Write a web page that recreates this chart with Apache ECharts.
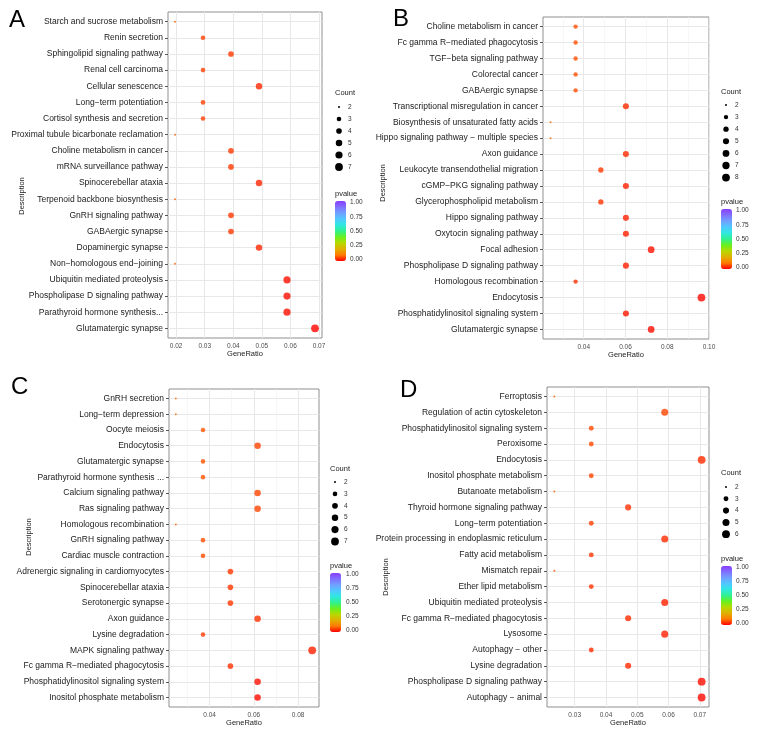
<!DOCTYPE html>
<html>
<head>
<meta charset="utf-8">
<script src="https://cdn.jsdelivr.net/npm/echarts@6/dist/echarts.min.js"></script>
<style>
  html, body { margin: 0; padding: 0; background: #fff; }
  #chart { width: 757px; height: 734px; }
</style>
</head>
<body>
<div id="chart"></div>
<script>
// ---- panel A ----
const termsA = ['Starch and sucrose metabolism', 'Renin secretion', 'Sphingolipid signaling pathway', 'Renal cell carcinoma',
  'Cellular senescence', 'Long−term potentiation', 'Cortisol synthesis and secretion', 'Proximal tubule bicarbonate reclamation',
  'Choline metabolism in cancer', 'mRNA surveillance pathway', 'Spinocerebellar ataxia', 'Terpenoid backbone biosynthesis',
  'GnRH signaling pathway', 'GABAergic synapse', 'Dopaminergic synapse', 'Non−homologous end−joining',
  'Ubiquitin mediated proteolysis', 'Phospholipase D signaling pathway', 'Parathyroid hormone synthesis...', 'Glutamatergic synapse'];
const ratioA = [0.0196, 0.0294, 0.0392, 0.0294, 0.0490, 0.0294, 0.0294, 0.0196, 0.0392, 0.0392,
  0.0490, 0.0196, 0.0392, 0.0392, 0.0490, 0.0196, 0.0588, 0.0588, 0.0588, 0.0686];
const countA = [2, 3, 4, 3, 5, 3, 3, 2, 4, 4, 5, 2, 4, 4, 5, 2, 6, 6, 6, 7];
const pvalA = [0.08, 0.05, 0.045, 0.05, 0.03, 0.05, 0.05, 0.08, 0.045, 0.045,
  0.03, 0.08, 0.045, 0.045, 0.03, 0.08, 0.012, 0.012, 0.012, 0.003];
const countKeyA = [2, 3, 4, 5, 6, 7];
const breaksA = [0.02, 0.03, 0.04, 0.05, 0.06, 0.07];
const minorA = [0.025, 0.035, 0.045, 0.055, 0.065];

// ---- panel B ----
const termsB = ['Choline metabolism in cancer', 'Fc gamma R−mediated phagocytosis', 'TGF−beta signaling pathway', 'Colorectal cancer',
  'GABAergic synapse', 'Transcriptional misregulation in cancer', 'Biosynthesis of unsaturated fatty acids',
  'Hippo signaling pathway − multiple species', 'Axon guidance', 'Leukocyte transendothelial migration',
  'cGMP−PKG signaling pathway', 'Glycerophospholipid metabolism', 'Hippo signaling pathway', 'Oxytocin signaling pathway',
  'Focal adhesion', 'Phospholipase D signaling pathway', 'Homologous recombination', 'Endocytosis',
  'Phosphatidylinositol signaling system', 'Glutamatergic synapse'];
const ratioB = [0.0361, 0.0361, 0.0361, 0.0361, 0.0361, 0.0602, 0.0241, 0.0241, 0.0602, 0.0482,
  0.0602, 0.0482, 0.0602, 0.0602, 0.0723, 0.0602, 0.0361, 0.0964, 0.0602, 0.0723];
const countB = [3, 3, 3, 3, 3, 5, 2, 2, 5, 4, 5, 4, 5, 5, 6, 5, 3, 8, 5, 6];
const pvalB = [0.065, 0.065, 0.065, 0.065, 0.065, 0.035, 0.08, 0.08, 0.035, 0.045,
  0.025, 0.04, 0.025, 0.025, 0.015, 0.025, 0.04, 0.006, 0.02, 0.01];
const countKeyB = [2, 3, 4, 5, 6, 7, 8];
const breaksB = [0.04, 0.06, 0.08, 0.10];
const minorB = [0.03, 0.05, 0.07, 0.09];

// ---- panel C ----
const termsC = ['GnRH secretion', 'Long−term depression', 'Oocyte meiosis', 'Endocytosis', 'Glutamatergic synapse',
  'Parathyroid hormone synthesis ...', 'Calcium signaling pathway', 'Ras signaling pathway', 'Homologous recombination',
  'GnRH signaling pathway', 'Cardiac muscle contraction', 'Adrenergic signaling in cardiomyocytes', 'Spinocerebellar ataxia',
  'Serotonergic synapse', 'Axon guidance', 'Lysine degradation', 'MAPK signaling pathway',
  'Fc gamma R−mediated phagocytosis', 'Phosphatidylinositol signaling system', 'Inositol phosphate metabolism'];
const ratioC = [0.0247, 0.0247, 0.0370, 0.0617, 0.0370, 0.0370, 0.0617, 0.0617, 0.0247, 0.0370,
  0.0370, 0.0494, 0.0494, 0.0494, 0.0617, 0.0370, 0.0864, 0.0494, 0.0617, 0.0617];
const countC = [2, 2, 3, 5, 3, 3, 5, 5, 2, 3, 3, 4, 4, 4, 5, 3, 7, 4, 5, 5];
const pvalC = [0.09, 0.09, 0.07, 0.055, 0.07, 0.07, 0.055, 0.055, 0.085, 0.065,
  0.06, 0.045, 0.045, 0.045, 0.04, 0.05, 0.025, 0.04, 0.012, 0.008];
const countKeyC = [2, 3, 4, 5, 6, 7];
const breaksC = [0.04, 0.06, 0.08];
const minorC = [0.03, 0.05, 0.07];

// ---- panel D ----
const termsD = ['Ferroptosis', 'Regulation of actin cytoskeleton', 'Phosphatidylinositol signaling system', 'Peroxisome',
  'Endocytosis', 'Inositol phosphate metabolism', 'Butanoate metabolism', 'Thyroid hormone signaling pathway',
  'Long−term potentiation', 'Protein processing in endoplasmic reticulum', 'Fatty acid metabolism', 'Mismatch repair',
  'Ether lipid metabolism', 'Ubiquitin mediated proteolysis', 'Fc gamma R−mediated phagocytosis', 'Lysosome',
  'Autophagy − other', 'Lysine degradation', 'Phospholipase D signaling pathway', 'Autophagy − animal'];
const ratioD = [0.0235, 0.0588, 0.0353, 0.0353, 0.0706, 0.0353, 0.0235, 0.0471, 0.0353, 0.0588,
  0.0353, 0.0235, 0.0353, 0.0588, 0.0471, 0.0588, 0.0353, 0.0471, 0.0706, 0.0706];
const countD = [2, 5, 3, 3, 6, 3, 2, 4, 3, 5, 3, 2, 3, 5, 4, 5, 3, 4, 6, 6];
const pvalD = [0.08, 0.055, 0.06, 0.06, 0.035, 0.055, 0.08, 0.04, 0.05, 0.035,
  0.045, 0.07, 0.04, 0.025, 0.035, 0.025, 0.035, 0.03, 0.01, 0.006];
const countKeyD = [2, 3, 4, 5, 6];
const breaksD = [0.03, 0.04, 0.05, 0.06, 0.07];
const minorD = [0.025, 0.035, 0.045, 0.055, 0.065];

const pvalueBreaks = [0, 0.25, 0.5, 0.75, 1];

const FONT = '"Liberation Sans", Arial, Helvetica, sans-serif';
// red at 0 -> purple at 1, 0.1 steps
const ramp = ['#ff0000', '#ff7a00', '#e0b000', '#b8d800', '#66f020', '#30f090',
  '#30e8e0', '#50c8ff', '#70a0ff', '#8070ff', '#8a3cff'];

const panels = [
  { letter: 'A', letterX: 9, letterY: 20, terms: termsA, ratio: ratioA, count: countA, pval: pvalA,
    key: countKeyA, breaks: breaksA, minor: minorA,
    grid: { left: 168, top: 12, width: 154, height: 326 }, desc: [22, 196], xNameGap: 12,
    cnt: { tx: 335, ty: 93, dx: 339, lx: 348, y0: 107, step: 12 },
    pv: { tx: 335, ty: 194, bx: 335, by: 201, bh: 60, lx: 350 } },
  { letter: 'B', letterX: 393, letterY: 19, terms: termsB, ratio: ratioB, count: countB, pval: pvalB,
    key: countKeyB, breaks: breaksB, minor: minorB,
    grid: { left: 543, top: 17, width: 166, height: 322 }, desc: [383, 183], xNameGap: 12,
    cnt: { tx: 721, ty: 92, dx: 726, lx: 735, y0: 105, step: 12.1 },
    pv: { tx: 721, ty: 202, bx: 721, by: 209, bh: 60, lx: 736 } },
  { letter: 'C', letterX: 11, letterY: 387, terms: termsC, ratio: ratioC, count: countC, pval: pvalC,
    key: countKeyC, breaks: breaksC, minor: minorC,
    grid: { left: 169, top: 389, width: 150, height: 318 }, desc: [29, 537], xNameGap: 12,
    cnt: { tx: 330, ty: 469, dx: 335, lx: 344, y0: 482, step: 11.9 },
    pv: { tx: 330, ty: 566, bx: 330, by: 573, bh: 59, lx: 346 } },
  { letter: 'D', letterX: 400, letterY: 390, terms: termsD, ratio: ratioD, count: countD, pval: pvalD,
    key: countKeyD, breaks: breaksD, minor: minorD,
    grid: { left: 547, top: 387, width: 162, height: 320 }, desc: [386, 577], xNameGap: 12,
    cnt: { tx: 721, ty: 473, dx: 726, lx: 735, y0: 487, step: 11.8 },
    pv: { tx: 721, ty: 559, bx: 721, by: 566, bh: 59, lx: 736 } }
];

// ggplot-like point size (area scale)
const dotSize = (c, key) => {
  const lo = key[0], hi = key[key.length - 1];
  return 2 + 5.8 * Math.sqrt((c - lo) / (hi - lo));
};
// 5% continuous expansion like ggplot
const expand = (vals) => {
  const lo = Math.min(...vals), hi = Math.max(...vals);
  const pad = (hi - lo) * 0.05;
  return [lo - pad, hi + pad];
};

const grids = [], xAxes = [], yAxes = [], series = [], visualMaps = [], graphics = [];

panels.forEach((p, i) => {
  const n = p.terms.length;
  const idx = p.terms.map((t, j) => j);
  const ext = expand(p.ratio);

  grids.push(Object.assign({ show: true, backgroundColor: '#fff', borderColor: '#8f8f8f', borderWidth: 1 }, p.grid));

  xAxes.push({
    type: 'value', gridIndex: i, min: ext[0], max: ext[1],
    name: 'GeneRatio', nameLocation: 'middle', nameGap: p.xNameGap, nameMoveOverlap: false,
    nameTextStyle: { fontSize: 7.5, color: '#1a1a1a', fontFamily: FONT },
    axisLine: { show: false },
    axisTick: { show: true, length: 3, customValues: p.breaks, lineStyle: { color: '#555', width: 1 } },
    axisLabel: { customValues: p.breaks, formatter: v => v.toFixed(2), fontSize: 6.5, color: '#4d4d4d', fontFamily: FONT, margin: 5 },
    splitLine: { show: false }
  });

  yAxes.push({
    type: 'value', gridIndex: i, inverse: true, min: -0.6, max: n - 1 + 0.6,
    axisLine: { show: false },
    axisTick: { show: true, length: 3, customValues: idx, lineStyle: { color: '#555', width: 1 } },
    axisLabel: { customValues: idx, formatter: v => p.terms[v] || '', fontSize: 8.5, color: '#1a1a1a', fontFamily: FONT, margin: 5 },
    splitLine: { show: false }
  });

  // background grid lines (major + minor), drawn through the axes
  const lines = []
    .concat(p.minor.map(v => ({ xAxis: v, lineStyle: { color: '#f2f2f2', width: 0.6, type: 'solid' } })))
    .concat(p.breaks.map(v => ({ xAxis: v, lineStyle: { color: '#e8e8e8', width: 1, type: 'solid' } })))
    .concat(idx.map(j => ({ yAxis: j, lineStyle: { color: '#e8e8e8', width: 1, type: 'solid' } })));
  series.push({
    type: 'scatter', xAxisIndex: i, yAxisIndex: i, data: [], silent: true, z: 1,
    markLine: { silent: true, symbol: ['none', 'none'], label: { show: false }, z: 1, animation: false, data: lines }
  });

  series.push({
    type: 'scatter', xAxisIndex: i, yAxisIndex: i, z: 3,
    data: p.terms.map((t, j) => [p.ratio[j], j, p.count[j], p.pval[j]]),
    symbolSize: v => dotSize(v[2], p.key)
  });

  visualMaps.push({
    type: 'continuous', seriesIndex: 2 * i + 1, dimension: 3, min: 0, max: 1,
    left: p.pv.bx, top: p.pv.by, itemWidth: 11, itemHeight: p.pv.bh, padding: 0,
    calculable: false, hoverLink: false, inRange: { color: ramp }
  });

  // panel letter
  graphics.push({ type: 'text', style: { text: p.letter, x: p.letterX, y: p.letterY, font: '24px ' + FONT, fill: '#000', textVerticalAlign: 'middle' } });

  // y axis title
  graphics.push({ type: 'text', x: p.desc[0], y: p.desc[1], rotation: Math.PI / 2,
    style: { text: 'Description', x: 0, y: 0, font: '7.5px ' + FONT, fill: '#1a1a1a', textAlign: 'center', textVerticalAlign: 'middle' } });

  // Count legend
  graphics.push({ type: 'text', style: { text: 'Count', x: p.cnt.tx, y: p.cnt.ty, font: '7.5px ' + FONT, fill: '#1a1a1a', textVerticalAlign: 'middle' } });
  p.key.forEach((c, k) => {
    const y = p.cnt.y0 + k * p.cnt.step;
    graphics.push({ type: 'circle', shape: { cx: p.cnt.dx, cy: y, r: dotSize(c, p.key) / 2 }, style: { fill: '#000' } });
    graphics.push({ type: 'text', style: { text: String(c), x: p.cnt.lx, y: y, font: '6.5px ' + FONT, fill: '#333', textVerticalAlign: 'middle' } });
  });

  // pvalue legend
  graphics.push({ type: 'text', style: { text: 'pvalue', x: p.pv.tx, y: p.pv.ty, font: '7.5px ' + FONT, fill: '#1a1a1a', textVerticalAlign: 'middle' } });
  pvalueBreaks.forEach(v => {
    const y = p.pv.by + 1.5 + (1 - v) * (p.pv.bh - 3);
    graphics.push({ type: 'text', style: { text: v.toFixed(2), x: p.pv.lx, y: y, font: '6.5px ' + FONT, fill: '#333', textVerticalAlign: 'middle' } });
  });
});

const chart = echarts.init(document.getElementById('chart'));
const option = {
  backgroundColor: '#fff',
  animation: false,
  grid: grids,
  xAxis: xAxes,
  yAxis: yAxes,
  visualMap: visualMaps,
  series: series,
  graphic: graphics
};
chart.setOption(option);
</script>
</body>
</html>
